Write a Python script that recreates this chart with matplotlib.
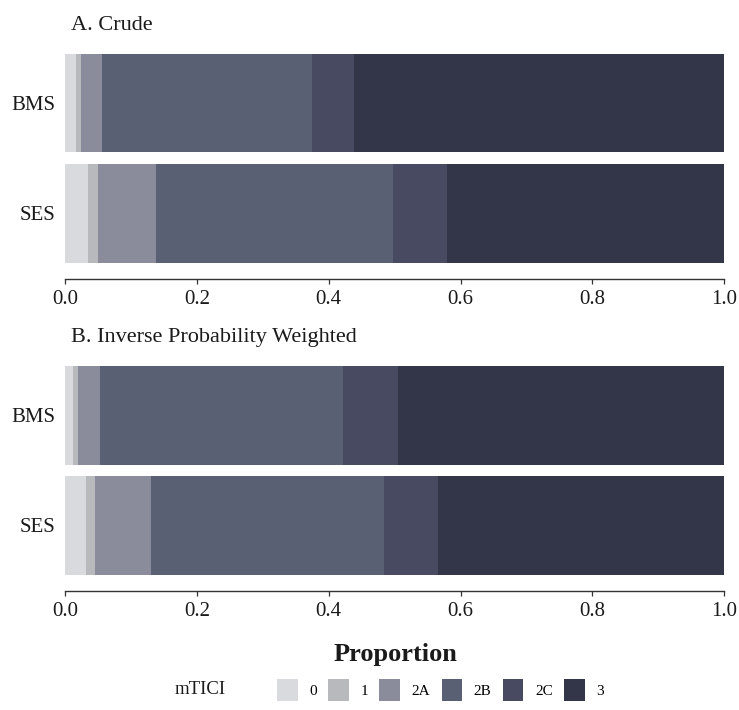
import matplotlib
matplotlib.use("Agg")
import matplotlib.pyplot as plt
from matplotlib.patches import Patch

plt.rcParams['font.family'] = ['Liberation Serif', 'DejaVu Serif']

# data (proportion of each mTICI grade)
groups = ["BMS", "SES"]
grades = ["0", "1", "2A", "2B", "2C", "3"]
crude_bms = [0.016, 0.008, 0.032, 0.319, 0.064, 0.561]
crude_ses = [0.035, 0.014, 0.089, 0.359, 0.082, 0.421]
ipw_bms = [0.012, 0.008, 0.033, 0.369, 0.083, 0.495]
ipw_ses = [0.032, 0.013, 0.085, 0.354, 0.082, 0.434]
panel_titles = ["A. Crude", "B. Inverse Probability Weighted"]
x_ticks = [0.0, 0.2, 0.4, 0.6, 0.8, 1.0]

colors = ["#d9dadd", "#b8b9bd", "#8a8c9b", "#5a6073", "#474a60", "#333548"]

W, H = 739, 710
fig = plt.figure(figsize=(W / 100, H / 100), dpi=100)


def draw_panel(top_px, bottom_px, bms, ses, title):
    ax = fig.add_axes([65.3 / W, 1 - bottom_px / H, (724 - 65.3) / W, (bottom_px - top_px) / H])
    for row, vals in enumerate([bms, ses]):
        left = 0
        for k, v in enumerate(vals):
            ax.barh(row, v, left=left, height=0.9, color=colors[k], linewidth=0)
            left += v
    ax.set_xlim(0, 1)
    ax.set_ylim(1.6, -0.6)
    ax.set_yticks([0, 1])
    ax.set_yticklabels(groups, fontsize=15, color="#1a1a1a")
    ax.set_xticks(x_ticks)
    ax.set_xticklabels(["%.1f" % t for t in x_ticks], fontsize=15, color="#1a1a1a")
    for s in ["top", "right", "left"]:
        ax.spines[s].set_visible(False)
    ax.spines["bottom"].set_color("#333333")
    ax.spines["bottom"].set_linewidth(1.0)
    ax.tick_params(axis="x", length=3.5, width=0.9, color="#333333", pad=4.5)
    ax.tick_params(axis="y", length=0, pad=7)
    fig.text(71 / W, 1 - (top_px - 7) / H, title, fontsize=16, color="#1a1a1a", va="baseline", ha="left")
    return ax


draw_panel(37, 279, crude_bms, crude_ses, panel_titles[0])
draw_panel(349, 591, ipw_bms, ipw_ses, panel_titles[1])

fig.text(395 / W, 1 - 655 / H, "Proportion", fontsize=19, fontweight="bold", ha="center", va="center", color="#1a1a1a")

fig.text(226 / W, 1 - 690 / H, "mTICI", fontsize=13.5, ha="right", va="center", color="#1a1a1a")
handles = [Patch(facecolor=c, edgecolor="none") for c in colors]
fig.legend(handles, grades, ncol=6, frameon=False, fontsize=11,
           loc="center left", bbox_to_anchor=(277 / W, 1 - 690 / H),
           borderpad=0, borderaxespad=0, handlelength=1.35, handleheight=1.9,
           handletextpad=0.75, columnspacing=0.75)

fig.savefig("out.png", dpi=100)
